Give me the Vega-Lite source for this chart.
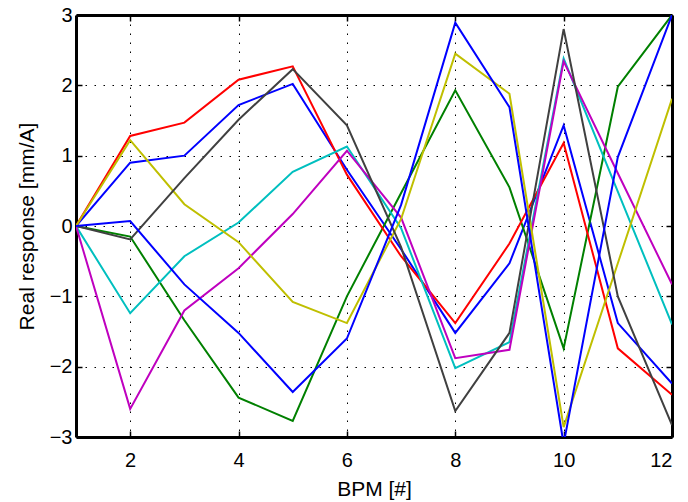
{
  "$schema": "https://vega.github.io/schema/vega-lite/v6.json",
  "width": 596,
  "height": 422,
  "autosize": {"type": "none"},
  "padding": {"left": 76, "top": 15, "right": 16, "bottom": 65},
  "background": "white",
  "config": {
    "view": {"stroke": null},
    "font": "Liberation Sans",
    "axis": {
      "labelFont": "Liberation Sans",
      "titleFont": "Liberation Sans",
      "labelFontSize": 20,
      "titleFontSize": 21,
      "titleFontWeight": "normal",
      "labelColor": "black",
      "titleColor": "black",
      "domainColor": "black",
      "domainWidth": 3,
      "tickColor": "black",
      "tickWidth": 1.5,
      "tickSize": -6,
      "gridColor": "black",
      "gridDash": [1.5, 7.5],
      "gridWidth": 1,
      "gridOpacity": 1
    }
  },
  "datasets": {
    "resp": [
      {"s": "a1", "bpm": 1, "v": 0}, {"s": "a1", "bpm": 2, "v": 0.9}, {"s": "a1", "bpm": 3, "v": 1.0}, {"s": "a1", "bpm": 4, "v": 1.72}, {"s": "a1", "bpm": 5, "v": 2.02}, {"s": "a1", "bpm": 6, "v": 0.8}, {"s": "a1", "bpm": 7, "v": -0.33}, {"s": "a1", "bpm": 8, "v": -1.52}, {"s": "a1", "bpm": 9, "v": -0.53}, {"s": "a1", "bpm": 10, "v": 1.43}, {"s": "a1", "bpm": 11, "v": -1.38}, {"s": "a1", "bpm": 12, "v": -2.24},
      {"s": "a2", "bpm": 1, "v": 0}, {"s": "a2", "bpm": 2, "v": -0.15}, {"s": "a2", "bpm": 3, "v": -1.34}, {"s": "a2", "bpm": 4, "v": -2.44}, {"s": "a2", "bpm": 5, "v": -2.77}, {"s": "a2", "bpm": 6, "v": -1.0}, {"s": "a2", "bpm": 7, "v": 0.47}, {"s": "a2", "bpm": 8, "v": 1.93}, {"s": "a2", "bpm": 9, "v": 0.55}, {"s": "a2", "bpm": 10, "v": -1.74}, {"s": "a2", "bpm": 11, "v": 1.98}, {"s": "a2", "bpm": 12, "v": 3.0},
      {"s": "a3", "bpm": 1, "v": 0}, {"s": "a3", "bpm": 2, "v": 1.28}, {"s": "a3", "bpm": 3, "v": 1.47}, {"s": "a3", "bpm": 4, "v": 2.08}, {"s": "a3", "bpm": 5, "v": 2.27}, {"s": "a3", "bpm": 6, "v": 0.73}, {"s": "a3", "bpm": 7, "v": -0.43}, {"s": "a3", "bpm": 8, "v": -1.38}, {"s": "a3", "bpm": 9, "v": -0.25}, {"s": "a3", "bpm": 10, "v": 1.18}, {"s": "a3", "bpm": 11, "v": -1.74}, {"s": "a3", "bpm": 12, "v": -2.4},
      {"s": "a4", "bpm": 1, "v": 0}, {"s": "a4", "bpm": 2, "v": -1.24}, {"s": "a4", "bpm": 3, "v": -0.43}, {"s": "a4", "bpm": 4, "v": 0.05}, {"s": "a4", "bpm": 5, "v": 0.77}, {"s": "a4", "bpm": 6, "v": 1.13}, {"s": "a4", "bpm": 7, "v": -0.03}, {"s": "a4", "bpm": 8, "v": -2.02}, {"s": "a4", "bpm": 9, "v": -1.65}, {"s": "a4", "bpm": 10, "v": 2.38}, {"s": "a4", "bpm": 11, "v": 0.49}, {"s": "a4", "bpm": 12, "v": -1.4},
      {"s": "a5", "bpm": 1, "v": 0}, {"s": "a5", "bpm": 2, "v": -2.6}, {"s": "a5", "bpm": 3, "v": -1.2}, {"s": "a5", "bpm": 4, "v": -0.6}, {"s": "a5", "bpm": 5, "v": 0.17}, {"s": "a5", "bpm": 6, "v": 1.07}, {"s": "a5", "bpm": 7, "v": 0.12}, {"s": "a5", "bpm": 8, "v": -1.88}, {"s": "a5", "bpm": 9, "v": -1.76}, {"s": "a5", "bpm": 10, "v": 2.34}, {"s": "a5", "bpm": 11, "v": 0.75}, {"s": "a5", "bpm": 12, "v": -0.83},
      {"s": "a6", "bpm": 1, "v": 0}, {"s": "a6", "bpm": 2, "v": 1.22}, {"s": "a6", "bpm": 3, "v": 0.31}, {"s": "a6", "bpm": 4, "v": -0.23}, {"s": "a6", "bpm": 5, "v": -1.08}, {"s": "a6", "bpm": 6, "v": -1.38}, {"s": "a6", "bpm": 7, "v": 0.1}, {"s": "a6", "bpm": 8, "v": 2.45}, {"s": "a6", "bpm": 9, "v": 1.88}, {"s": "a6", "bpm": 10, "v": -2.86}, {"s": "a6", "bpm": 11, "v": -0.53}, {"s": "a6", "bpm": 12, "v": 1.81},
      {"s": "a7", "bpm": 1, "v": 0}, {"s": "a7", "bpm": 2, "v": -0.19}, {"s": "a7", "bpm": 3, "v": 0.68}, {"s": "a7", "bpm": 4, "v": 1.51}, {"s": "a7", "bpm": 5, "v": 2.23}, {"s": "a7", "bpm": 6, "v": 1.43}, {"s": "a7", "bpm": 7, "v": -0.3}, {"s": "a7", "bpm": 8, "v": -2.63}, {"s": "a7", "bpm": 9, "v": -1.52}, {"s": "a7", "bpm": 10, "v": 2.8}, {"s": "a7", "bpm": 11, "v": -1.0}, {"s": "a7", "bpm": 12, "v": -2.83},
      {"s": "a8", "bpm": 1, "v": 0}, {"s": "a8", "bpm": 2, "v": 0.07}, {"s": "a8", "bpm": 3, "v": -0.83}, {"s": "a8", "bpm": 4, "v": -1.52}, {"s": "a8", "bpm": 5, "v": -2.36}, {"s": "a8", "bpm": 6, "v": -1.6}, {"s": "a8", "bpm": 7, "v": 0.3}, {"s": "a8", "bpm": 8, "v": 2.89}, {"s": "a8", "bpm": 9, "v": 1.69}, {"s": "a8", "bpm": 10, "v": -3.1}, {"s": "a8", "bpm": 11, "v": 0.98}, {"s": "a8", "bpm": 12, "v": 3.0}
    ]
  },
  "data": {"name": "resp"},
  "layer": [
    {
      "mark": {"type": "line", "strokeWidth": 2, "clip": true},
      "encoding": {
        "x": {
          "field": "bpm", "type": "quantitative",
          "scale": {"domain": [1, 12], "nice": false, "zero": false},
          "axis": {"orient": "bottom", "values": [2, 4, 6, 8, 10, 12], "title": "BPM [#]", "grid": true, "labelPadding": 19, "titlePadding": 8}
        },
        "y": {
          "field": "v", "type": "quantitative",
          "scale": {"domain": [-3, 3], "nice": false, "zero": false},
          "axis": {"orient": "left", "values": [-3, -2, -1, 0, 1, 2, 3], "title": "Real response [mm/A]", "grid": true, "labelPadding": 10, "titlePadding": 12}
        },
        "color": {
          "field": "s", "type": "nominal",
          "scale": {
            "domain": ["a1", "a2", "a3", "a4", "a5", "a6", "a7", "a8"],
            "range": ["#0000ff", "#008000", "#ff0000", "#00bfbf", "#bf00bf", "#bfbf00", "#404040", "#0000ff"]
          },
          "legend": null
        },
        "order": {"field": "bpm"}
      }
    },
    {
      "mark": {"type": "line", "opacity": 0},
      "encoding": {
        "x": {"field": "bpm", "type": "quantitative", "axis": {"orient": "top", "values": [2, 4, 6, 8, 10, 12], "labels": false, "title": null, "grid": false}},
        "y": {"field": "v", "type": "quantitative", "axis": {"orient": "right", "values": [-3, -2, -1, 0, 1, 2, 3], "labels": false, "title": null, "grid": false}},
        "detail": {"field": "s"}
      }
    }
  ],
  "resolve": {"axis": {"x": "independent", "y": "independent"}}
}
